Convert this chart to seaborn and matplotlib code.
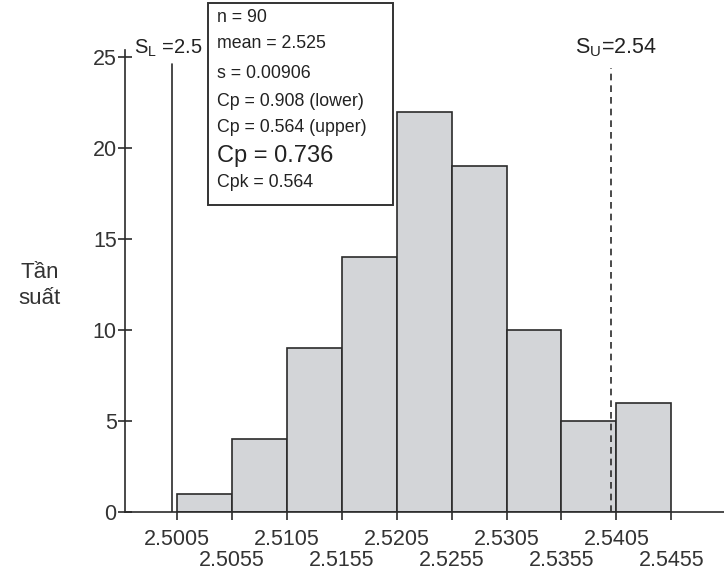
import numpy as np
import pandas as pd
import matplotlib
matplotlib.use("Agg")
import matplotlib.pyplot as plt
import seaborn as sns

# histogram data
bin_edges = [2.5005, 2.5055, 2.5105, 2.5155, 2.5205, 2.5255, 2.5305, 2.5355, 2.5405, 2.5455]
counts = [1, 4, 9, 14, 22, 19, 10, 5, 6]
y_ticks = [0, 5, 10, 15, 20, 25]
s_lower = 2.5
s_upper = 2.54
stats_lines = ["n = 90", "mean = 2.525", "s = 0.00906", "Cp = 0.908 (lower)",
               "Cp = 0.564 (upper)", "Cp = 0.736", "Cpk = 0.564"]

centers = [(a + b) / 2 for a, b in zip(bin_edges[:-1], bin_edges[1:])]
df = pd.DataFrame({"x": centers, "w": counts})

sns.set_style("white")
plt.rcParams['font.family'] = ['Liberation Sans', 'DejaVu Sans']

fig = plt.figure(figsize=(7.24, 5.74), dpi=100)
ax = fig.add_axes([0.1727, 0.108, 0.8273, 0.805])

sns.histplot(data=df, x="x", weights="w", bins=bin_edges, ax=ax,
             color="#d3d5d8", edgecolor="#2b2b2b", linewidth=1.2, alpha=1)

ax.set_xlim(2.49576, 2.5503)
ax.set_ylim(0, 25.4)

# spec limits
ax.plot([s_lower, s_lower], [0, 24.6], color="#2b2b2b", lw=1.2)
ax.plot([s_upper, s_upper], [0, 24.4], color="#2b2b2b", lw=1.2, ls=(0, (4, 3)))
ax.text(s_lower - 0.0003, 24.9, r"S$_\mathregular{L}$ =2.5", ha="center", va="bottom",
        fontsize=14.5, color="#222222")
ax.text(s_upper - 0.0033, 24.9, r"S$_\mathregular{U}$=2.54", ha="left", va="bottom",
        fontsize=15.5, color="#222222")

# x ticks, alternating rows: even edges as major, odd edges as minor (lower row)
row1 = bin_edges[0::2]
row2 = bin_edges[1::2]
ax.set_xticks(row1)
ax.set_xticklabels([f"{e:.4f}" for e in row1], fontsize=15.5, color="#333333")
ax.set_xticks(row2, minor=True)
ax.set_xticklabels([f"{e:.4f}" for e in row2], minor=True, fontsize=15.5, color="#333333")
ax.set_yticks(y_ticks)
ax.set_yticklabels([str(t) for t in y_ticks], fontsize=15.5, color="#333333")
ax.tick_params(axis="x", which="major", direction="out", length=6, width=1.2,
               color="#2b2b2b", pad=6)
ax.tick_params(axis="x", which="minor", direction="out", length=6, width=1.2,
               color="#2b2b2b", pad=21)
ax.tick_params(axis="y", direction="inout", length=10, width=1.2, color="#2b2b2b", pad=1)
ax.xaxis.set_ticks_position("bottom")
ax.yaxis.set_ticks_position("left")

for side in ["top", "right"]:
    ax.spines[side].set_visible(False)
for side in ["left", "bottom"]:
    ax.spines[side].set_color("#2b2b2b")
    ax.spines[side].set_linewidth(1.2)

ax.set_xlabel("")
ax.set_ylabel("Tần\nsuất", rotation=0, fontsize=16, color="#333333",
              ha="center", va="center", labelpad=0, linespacing=1.3)
ax.yaxis.set_label_coords(-0.143, 0.49)

# stats box
box = plt.Rectangle((208 / 724, 1 - 205 / 574), 185 / 724, 202 / 574,
                    transform=fig.transFigure, fill=True, facecolor="white",
                    edgecolor="#333333", lw=1.4, zorder=5)
fig.patches.append(box)
ys = [17, 44, 73, 101, 127, 156, 183]
for line, yy in zip(stats_lines, ys):
    big = line == "Cp = 0.736"
    fig.text(217 / 724, 1 - yy / 574, line, ha="left", va="center",
             fontsize=17 if big else 12.8, color="#222222", zorder=6)

fig.savefig("out.png", dpi=100)
